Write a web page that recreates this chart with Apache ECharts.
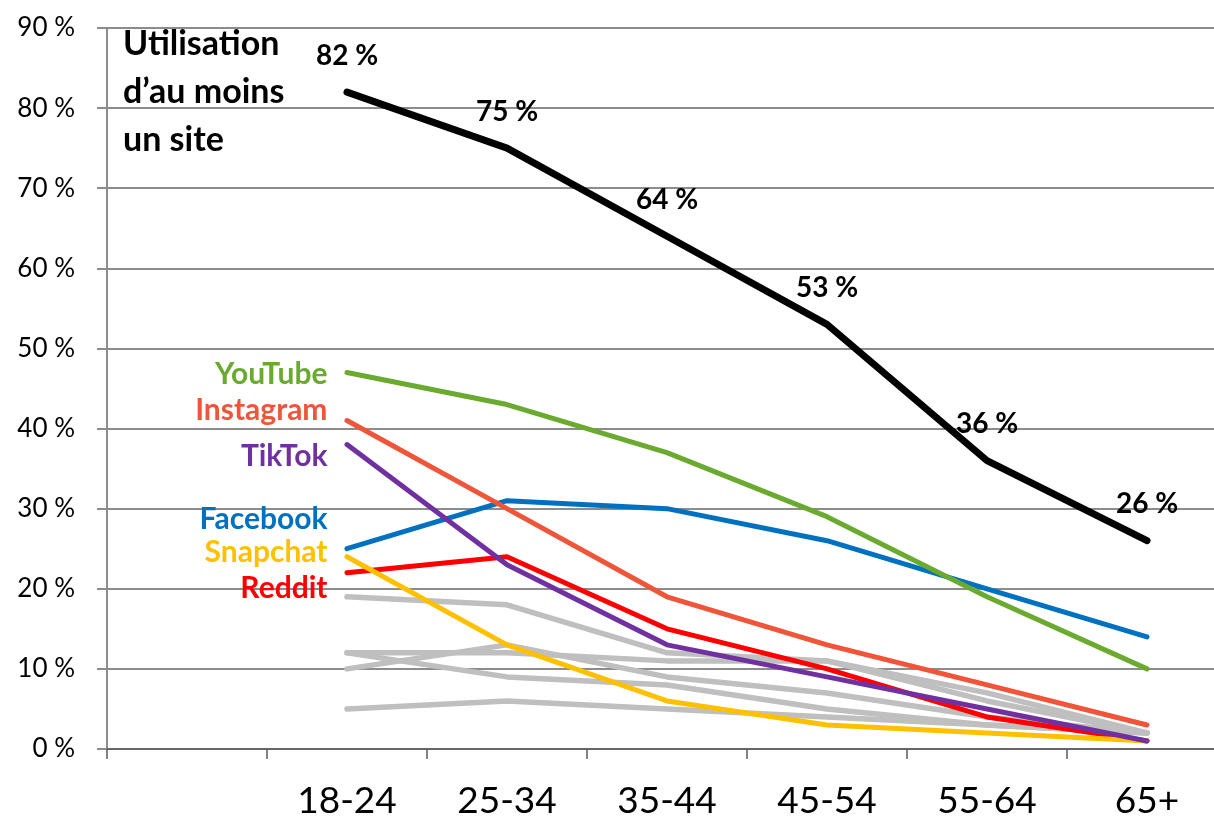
<!DOCTYPE html>
<html lang="fr">
<head>
    <meta charset="UTF-8">
    <title>Utilisation des réseaux sociaux par âge</title>
    <script src="https://cdn.jsdelivr.net/npm/echarts@6/dist/echarts.min.js"></script>
    <style>
        html, body { margin: 0; padding: 0; background: #fff; }
        #box { width: 1214px; height: 819px; }
    </style>
</head>
<body>
<div id="box"></div>
<script>
    // first category is an empty band, like in the original sheet
    var categories = ['', '18-24', '25-34', '35-44', '45-54', '55-64', '65+'];

    var auMoinsUn = [82, 75, 64, 53, 36, 26];
    var youtube   = [47, 43, 37, 29, 19, 10];
    var instagram = [41, 30, 19, 13, 8, 3];
    var tiktok    = [38, 23, 13, 9, 5, 1];
    var facebook  = [25, 31, 30, 26, 20, 14];
    var snapchat  = [24, 13, 6, 3, 2, 1];
    var reddit    = [22, 24, 15, 10, 4, 1];

    // autres sites (gris)
    var autre1 = [19, 18, 12, 11, 7, 2];
    var autre2 = [12, 12, 11, 11, 6, 2];
    var autre3 = [10, 13, 9, 7, 4, 2];
    var autre4 = [12, 9, 8, 5, 3, 2];
    var autre5 = [5, 6, 5, 4, 3, 2];

    var FONT = 'Lato, "Open Sans", sans-serif';

    function grey(values) {
        return {
            type: 'line',
            data: ['-'].concat(values),
            symbol: 'none',
            silent: true,
            lineStyle: { color: '#bfbfbf', width: 5.5, cap: 'round' },
            z: 2
        };
    }

    function site(name, values, color, dy) {
        var data = ['-'];
        values.forEach(function (v, i) {
            if (i === 0) {
                data.push({
                    value: v,
                    label: {
                        show: true,
                        formatter: name,
                        position: 'left',
                        distance: 19,
                        offset: [0, dy],
                        color: color,
                        fontFamily: FONT,
                        fontWeight: 'bold',
                        fontSize: 30
                    }
                });
            } else {
                data.push(v);
            }
        });
        return {
            type: 'line',
            name: name,
            data: data,
            symbol: 'circle',
            symbolSize: 1,
            itemStyle: { color: color },
            lineStyle: { color: color, width: 5, cap: 'round' },
            z: 3
        };
    }

    var mychart = echarts.init(document.getElementById('box'));

    var series = [
        grey(autre1), grey(autre2), grey(autre3), grey(autre4), grey(autre5),
        site('Facebook', facebook, '#0070c0', -29),
        site('YouTube', youtube, '#6aaa2e', 2),
        site('Reddit', reddit, '#ff0000', 16),
        site('Snapchat', snapchat, '#ffc000', -4),
        site('TikTok', tiktok, '#7030a0', 12),
        site('Instagram', instagram, '#ef5539', -10),
        {
            type: 'line',
            name: 'Utilisation d’au moins un site',
            data: ['-'].concat(auMoinsUn),
            symbol: 'circle',
            symbolSize: 1,
            itemStyle: { color: '#000' },
            lineStyle: { color: '#000', width: 7, cap: 'round' },
            label: {
                show: true,
                position: 'top',
                distance: 22,
                formatter: '{c} %',
                color: '#000',
                fontFamily: FONT,
                fontWeight: 'bold',
                fontSize: 28
            },
            z: 4
        }
    ];

    var option = {
        animation: false,
        grid: { left: 107, width: 1120, top: 28, bottom: 70, outerBoundsMode: 'none' },
        graphic: [{
            type: 'text',
            left: 123,
            top: 20,
            style: {
                text: 'Utilisation\nd’au moins\nun site',
                font: 'bold 34px ' + FONT,
                lineHeight: 48,
                fill: '#000'
            }
        }],
        xAxis: {
            type: 'category',
            data: categories,
            boundaryGap: true,
            axisLine: { lineStyle: { color: '#595959', width: 1.5 } },
            axisTick: { show: true, length: 10, lineStyle: { color: '#595959', width: 1.5 } },
            axisLabel: {
                margin: 34,
                color: '#000',
                fontFamily: FONT,
                fontSize: 37
            },
            splitLine: { show: false }
        },
        yAxis: {
            type: 'value',
            min: 0,
            max: 90,
            interval: 10,
            axisLine: { show: true, lineStyle: { color: '#8c8c8c', width: 2 } },
            axisTick: { show: true, length: 10, lineStyle: { color: '#8c8c8c', width: 2 } },
            axisLabel: {
                margin: 32,
                formatter: '{value} %',
                color: '#000',
                fontFamily: FONT,
                fontSize: 26
            },
            splitLine: { lineStyle: { color: '#8c8c8c', width: 2 } }
        },
        series: series
    };
    mychart.setOption(option);
</script>
</body>
</html>
